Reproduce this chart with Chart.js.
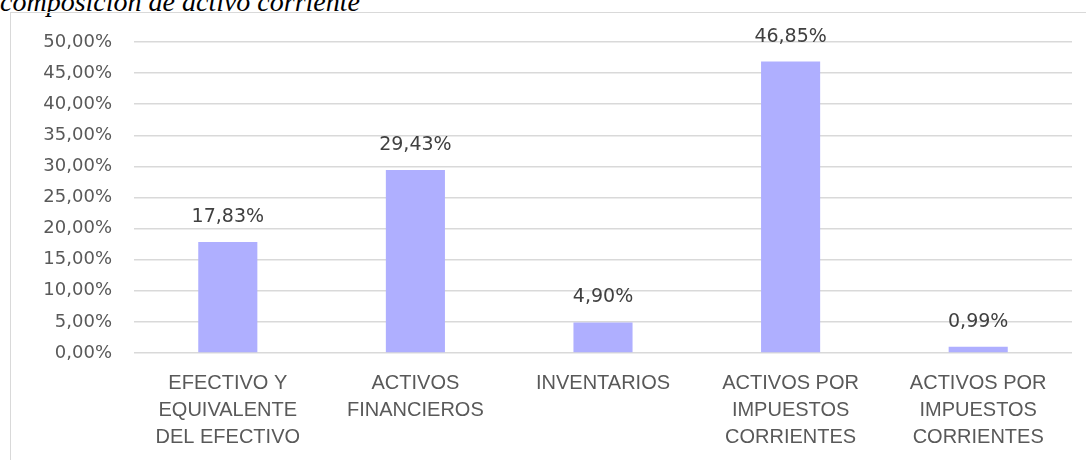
<!DOCTYPE html>
<html>
<head>
<meta charset="utf-8">
<script src="https://cdn.jsdelivr.net/npm/chart.js@4/dist/chart.umd.min.js"></script>
<style>
  body { margin:0; background:#fff; overflow:hidden; }
  #wrap { position:absolute; left:0; top:0; width:1086px; height:460px; }
  #frame { position:absolute; left:10px; top:12px; width:1100px; height:500px;
           border-left:1.5px solid #d9d9d9; border-top:1.5px solid #d9d9d9; }
  #titulo { position:absolute; left:0; top:-12px; font:italic 28px 'Liberation Serif', serif;
            line-height:28px; color:#000; white-space:nowrap; }
</style>
</head>
<body>
<div id="titulo">composición de activo corriente</div>
<div id="frame"></div>
<div id="wrap"><canvas id="chart"></canvas></div>
<script>
// datos
const categorias = [
  ['EFECTIVO Y','EQUIVALENTE','DEL EFECTIVO'],
  ['ACTIVOS','FINANCIEROS'],
  ['INVENTARIOS'],
  ['ACTIVOS POR','IMPUESTOS','CORRIENTES'],
  ['ACTIVOS POR','IMPUESTOS','CORRIENTES']
];
const porcentajes = [17.83, 29.43, 4.90, 46.85, 0.99];
const ejeMax = 50;
const ejePaso = 5;

function fmt(v){ return v.toFixed(2).replace('.', ',') + '%'; }

const etiquetas = {
  id:'etiquetas',
  afterDatasetsDraw(chart){
    const ctx = chart.ctx;
    const meta = chart.getDatasetMeta(0);
    ctx.save();
    ctx.font = '19px "DejaVu Sans"';
    ctx.fillStyle = '#404040';
    ctx.textAlign = 'center';
    ctx.textBaseline = 'middle';
    meta.data.forEach((bar,i)=>{
      ctx.fillText(fmt(porcentajes[i]), bar.x, bar.y - 25);
    });
    ctx.restore();
  }
};

new Chart(document.getElementById('chart').getContext('2d'), {
  type:'bar',
  data:{
    labels: categorias,
    datasets:[{
      data: porcentajes,
      backgroundColor:'#afafff',
      barPercentage:0.315,
      categoryPercentage:1
    }]
  },
  options:{
    responsive:true,
    maintainAspectRatio:false,
    animation:false,
    layout:{ padding:{ left:0, right:14, top:42, bottom:0 } },
    plugins:{ legend:{display:false}, tooltip:{enabled:false} },
    scales:{
      x:{
        grid:{ display:false, drawTicks:false },
        border:{ display:false },
        ticks:{ color:'#595959', padding:17, maxRotation:0, autoSkip:false,
                font:{ family:'Liberation Sans', size:20, lineHeight:1.35 } },
        afterFit(s){ s.height = 107; }
      },
      y:{
        min:0, max:ejeMax,
        grid:{ color:'#d9d9d9', lineWidth:1.5, drawTicks:false },
        border:{ display:false },
        ticks:{ stepSize:ejePaso, color:'#595959', padding:22,
                font:{ family:'DejaVu Sans', size:18 },
                callback:(v)=>fmt(v) },
        afterFit(s){ s.width = 134; }
      }
    }
  },
  plugins:[etiquetas]
});
</script>
</body>
</html>
